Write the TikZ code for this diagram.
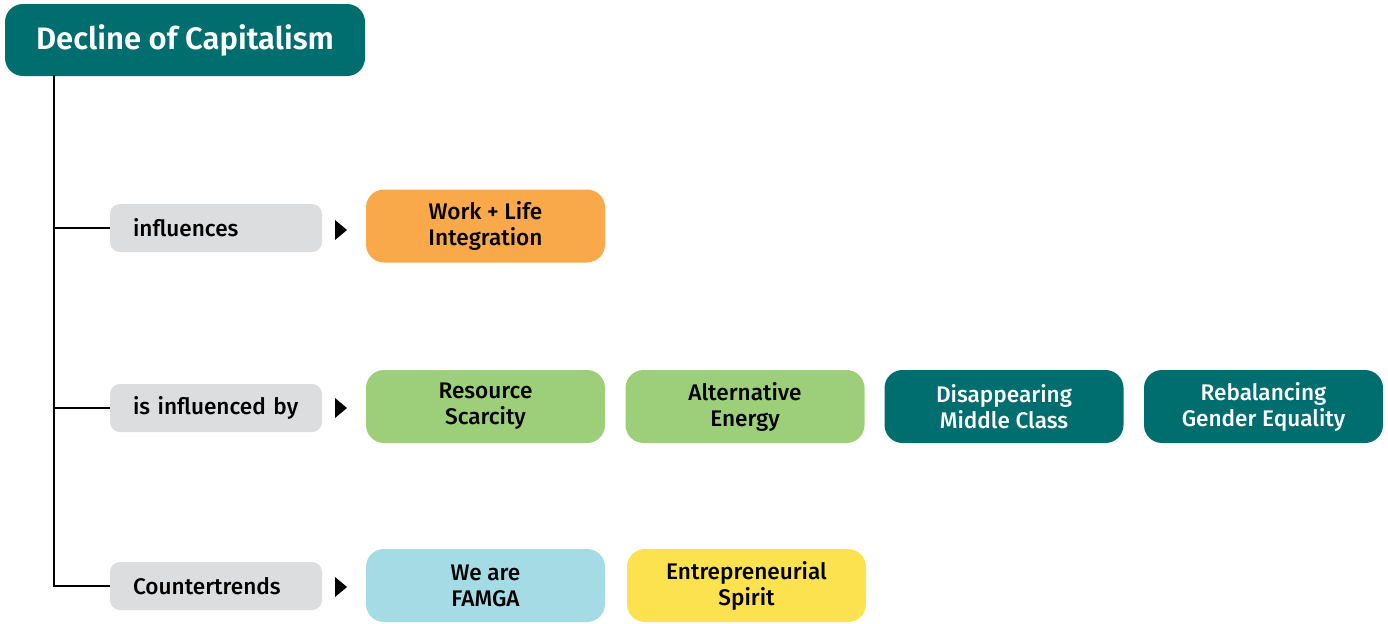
\documentclass[tikz,border=0pt]{standalone}
\usepackage{fontspec}
\setmainfont{Fira Sans}[UprightFont=* Medium,BoldFont=* SemiBold]
\usetikzlibrary{positioning}
\definecolor{TrendTeal}{HTML}{006D6F}
\definecolor{LabelGray}{HTML}{DCDDDF}
\definecolor{TrendOrange}{HTML}{F9A84A}
\definecolor{TrendGreen}{HTML}{9DCF7A}
\definecolor{TrendBlue}{HTML}{A5DBE5}
\definecolor{TrendYellow}{HTML}{FDE24F}
\tikzset{
  figure/.style={x=0.5pt,y=-0.5pt,font=\fontsize{11.3}{13}\selectfont},
  headbox/.style={fill=TrendTeal,text=white,rounded corners=9pt,minimum width=180pt,
    minimum height=36pt,font=\fontsize{15.5}{17}\selectfont\bfseries},
  relbox/.style={fill=LabelGray,rounded corners=5pt,minimum height=24pt,
    inner xsep=11.5pt,text width=83pt,align=left},
  trendbox/.style={rounded corners=9pt,minimum width=119.5pt,minimum height=36.5pt,
    align=center,inner sep=2pt},
  branch/.style={line width=0.75pt,draw=black},
  marker/.style={fill=black},
}

\begin{document}
\begin{tikzpicture}[figure]
  \useasboundingbox (0,0) rectangle (1388,623);

  \node[headbox] (head) at (185,40) {Decline of Capitalism};
  \coordinate (trunk) at (54,75);

  % relation labels
  \node[relbox] (rel1) at (216,228) {influences};
  \node[relbox] (rel2) at (216,408) {is influenced by};
  \node[relbox] (rel3) at (216,586) {Countertrends};

  \draw[branch] (trunk) |- (rel3.west);
  \draw[branch] (trunk |- rel1.west) -- (rel1.west);
  \draw[branch] (trunk |- rel2.west) -- (rel2.west);

  % markers
  \coordinate (mark1) at (341,230);
  \coordinate (mark2) at (341,408);
  \coordinate (mark3) at (341,587);
  \foreach \m in {mark1,mark2,mark3}
    \fill[marker] (\m) +(-6,-10) -- +(6,0) -- +(-6,10) -- cycle;

  % trends
  \node[trendbox,fill=TrendOrange] (work) at (485.5,226) {Work + Life\\Integration};

  \node[trendbox,fill=TrendGreen] (scarcity) at (485.5,406.5) {Resource\\Scarcity};
  \node[trendbox,fill=TrendGreen] (energy) at (745,406.5) {Alternative\\Energy};
  \node[trendbox,fill=TrendTeal,text=white] (middle) at (1004,406.5) {Disappearing\\Middle Class};
  \node[trendbox,fill=TrendTeal,text=white] (gender) at (1263.5,406.5) {Rebalancing\\Gender Equality};

  \node[trendbox,fill=TrendBlue] (famga) at (485.5,585.5) {We are\\FAMGA};
  \node[trendbox,fill=TrendYellow] (spirit) at (746.5,585.5) {Entrepreneurial\\Spirit};
\end{tikzpicture}
\end{document}
